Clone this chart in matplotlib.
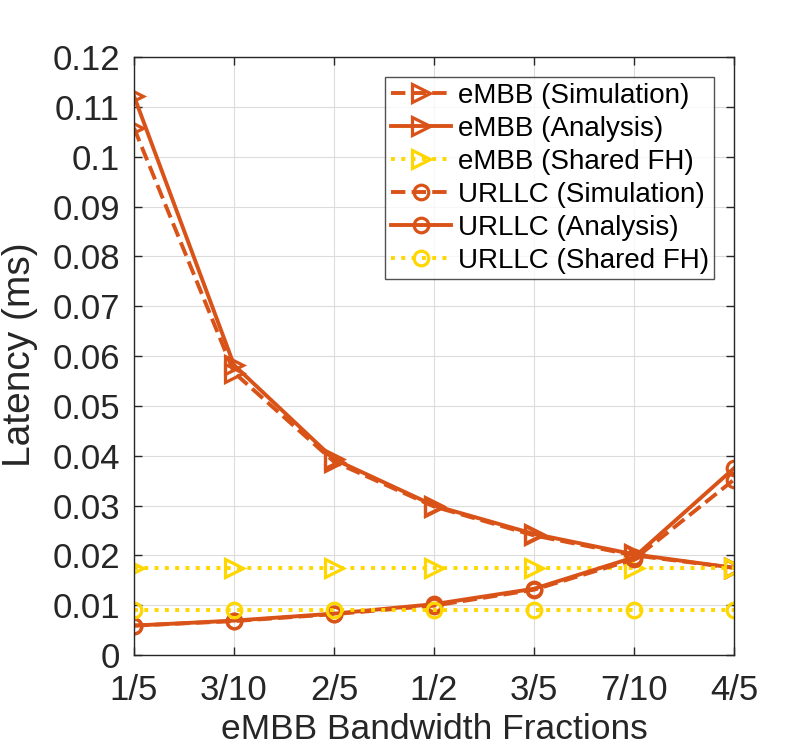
import matplotlib.pyplot as plt

plt.rcParams['font.family'] = ['Liberation Sans', 'DejaVu Sans']

# x 축 카테고리
fractions = ['1/5', '3/10', '2/5', '1/2', '3/5', '7/10', '4/5']
x = list(range(len(fractions)))

embb_sim = [0.1058, 0.0567, 0.0388, 0.0298, 0.0240, 0.0200, 0.0175]
embb_ana = [0.1122, 0.0582, 0.0393, 0.0300, 0.0243, 0.0202, 0.0175]
embb_shared = [0.0175, 0.0175, 0.0175, 0.0175, 0.0175, 0.0175, 0.0175]
urllc_sim = [0.0059, 0.0068, 0.0082, 0.0099, 0.0131, 0.0192, 0.0352]
urllc_ana = [0.0059, 0.0069, 0.0083, 0.0102, 0.0133, 0.0196, 0.0375]
urllc_shared = [0.0091, 0.0091, 0.0091, 0.0091, 0.0091, 0.0091, 0.0091]

orange = '#D95319'
yellow = '#FFD700'
dark = '#262626'

fig = plt.figure(figsize=(8.12, 7.52), dpi=100)
ax = fig.add_axes([0.165, 0.129, 0.739, 0.795])

lw = 2.8
mew = 2.3
ax.plot(x, embb_sim, '--', color=orange, lw=lw, marker='>', ms=13, mfc='none', mew=mew, label='eMBB (Simulation)')
ax.plot(x, embb_ana, '-', color=orange, lw=lw, marker='>', ms=13, mfc='none', mew=mew, label='eMBB (Analysis)')
ax.plot(x, embb_shared, ':', color=yellow, lw=lw, marker='>', ms=13, mfc='none', mew=mew, label='eMBB (Shared FH)')
ax.plot(x, urllc_sim, '--', color=orange, lw=lw, marker='o', ms=10.5, mfc='none', mew=mew, label='URLLC (Simulation)')
ax.plot(x, urllc_ana, '-', color=orange, lw=lw, marker='o', ms=10.5, mfc='none', mew=mew, label='URLLC (Analysis)')
ax.plot(x, urllc_shared, ':', color=yellow, lw=lw, marker='o', ms=10.5, mfc='none', mew=mew, label='URLLC (Shared FH)')

ax.set_xlim(0, 6)
ax.set_ylim(0, 0.12)
ax.set_xticks(x)
ax.set_xticklabels(fractions)
ax.set_yticks([i * 0.01 for i in range(13)])
ax.set_yticklabels(['0'] + ['%g' % (i * 0.01) for i in range(1, 13)])
ax.tick_params(labelsize=25, direction='in', top=True, right=True, length=6, width=1, colors=dark)
ax.tick_params(axis='x', pad=14)
ax.tick_params(axis='y', pad=10)
ax.grid(True, color='#dcdcdc', lw=0.8)
for s in ax.spines.values():
    s.set_color(dark)
    s.set_linewidth(1)

ax.set_xlabel('eMBB Bandwidth Fractions', fontsize=25.5, color=dark)
ax.xaxis.set_label_coords(0.5, -0.097)
ax.set_ylabel('Latency (ms)', fontsize=28, color=dark)
ax.yaxis.set_label_coords(-0.16, 0.503)

leg = ax.legend(loc='upper right', bbox_to_anchor=(0.967, 0.966), fontsize=20, frameon=True,
                fancybox=False, edgecolor=dark, handlelength=2.15, labelspacing=0.25,
                borderpad=0.2, handletextpad=0.25, borderaxespad=0)
leg.get_frame().set_linewidth(1)

fig.savefig('out.png', dpi=100)
